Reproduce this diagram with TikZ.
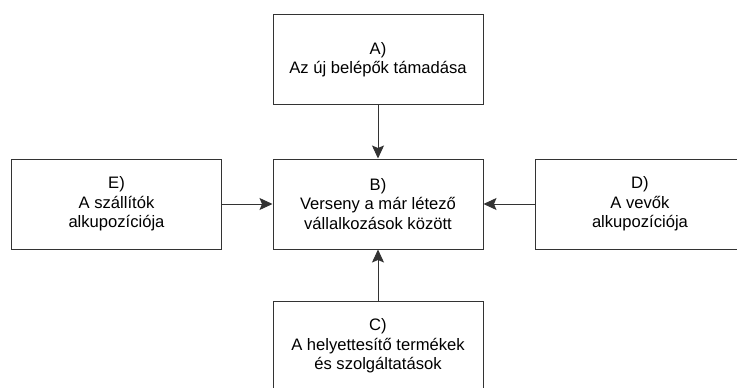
\documentclass[tikz,border=0pt]{standalone}
\usepackage{fontspec}
\setmainfont{Liberation Sans}
\usetikzlibrary{arrows.meta}
\begin{document}
\begin{tikzpicture}[x=1pt,y=-1pt,
  box/.style={draw=black!80, line width=1pt, fill=white, minimum width=210pt, minimum height=90pt,
    align=center, inner sep=0pt, font=\fontsize{16.6}{19.5}\selectfont},
  conn/.style={draw=black!80, line width=1pt, -{Stealth[length=13pt,width=12pt,inset=2.5pt]}}]
\useasboundingbox (0,0) rectangle (737,388);
\node[box] (A) at (378,59.5) {A)\\Az új belépők támadása};
\node[box] (B) at (378,204) {B)\\Verseny a már létező\\vállalkozások között};
\node[box] (C) at (378,346) {C)\\A helyettesítő termékek\\és szolgáltatások};
\node[box] (E) at (116.5,204) {E)\\A szállítók\\alkupozíciója};
\node[box] (D) at (640,204) {D)\\A vevők\\alkupozíciója};
\draw[conn] (A) -- (B);
\draw[conn] (C) -- (B);
\draw[conn] (E) -- (B);
\draw[conn] (D) -- (B);
\end{tikzpicture}
\end{document}
